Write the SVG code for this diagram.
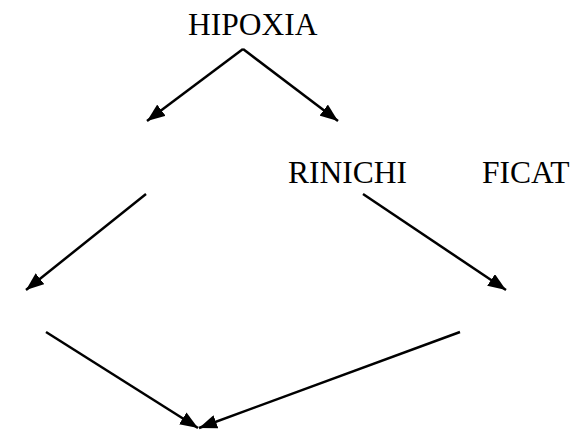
<svg xmlns="http://www.w3.org/2000/svg" width="576" height="430" viewBox="0 0 576 430">
<style>
text{font-family:"Liberation Serif","Times New Roman",serif;font-size:31.5px;fill:#000}
.c line{stroke:#000;stroke-width:2.5;fill:none;marker-end:url(#ah)}
</style>
<defs>
<marker id="ah" markerUnits="userSpaceOnUse" viewBox="0 0 18 14" refX="18" refY="7" markerWidth="18" markerHeight="14" orient="auto">
<path d="M0,0 L18,7 L0,14 Z" fill="#000"/>
</marker>
</defs>
<rect width="576" height="430" fill="#fff"/>
<g id="hipoxia"><text x="188" y="35">HIPOXIA</text></g>
<g id="rinichi"><text x="288" y="183">RINICHI</text></g>
<g id="ficat"><text x="482" y="183">FICAT</text></g>
<g class="c" id="connectors">
<line x1="243" y1="49" x2="147" y2="121"/>
<line x1="243" y1="49" x2="338" y2="121"/>
<line x1="146" y1="194" x2="26" y2="290"/>
<line x1="363" y1="194" x2="506" y2="290"/>
<line x1="46" y1="332" x2="198" y2="428"/>
<line x1="460" y1="332" x2="199" y2="428"/>
</g>
</svg>
